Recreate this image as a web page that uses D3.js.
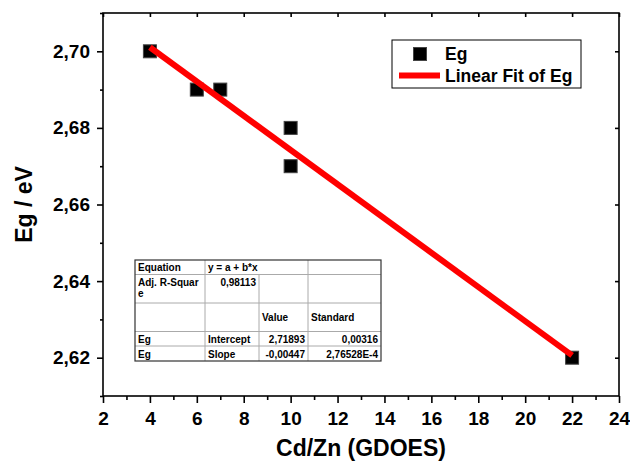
<!DOCTYPE html>
<html>
<head>
<meta charset="utf-8">
<script src="https://cdn.jsdelivr.net/npm/d3@7"></script>
<style>
  body { margin: 0; background: #fff; }
  svg { font-family: "Liberation Sans", Arial, sans-serif; font-weight: bold; }
</style>
</head>
<body>
<div id="chart"></div>
<script>
// measured points
const cdZn = [4, 6, 7, 10, 10, 22];
const eg = [2.70, 2.69, 2.69, 2.68, 2.67, 2.62];

// linear fit (from the fit table)
const intercept = 2.71893;
const slope = -0.00447;
const fitRange = [4, 22];

const xTicks = [2, 4, 6, 8, 10, 12, 14, 16, 18, 20, 22, 24];
const xMinor = [3, 5, 7, 9, 11, 13, 15, 17, 19, 21, 23];
const yTicks = [2.62, 2.64, 2.66, 2.68, 2.70];
const yMinor = [2.61, 2.63, 2.65, 2.67, 2.69, 2.71];

// fit table rows
const tableRows = [
    ["Equation", "y = a + b*x", "", ""],
    ["Adj. R-Squar|e", "0,98113", "", ""],
    ["", "", "Value", "Standard"],
    ["Eg", "Intercept", "2,71893", "0,00316"],
    ["Eg", "Slope", "-0,00447", "2,76528E-4"]
];

const w = 630, h = 463;
const pLeft = 103, pRight = 619, pTop = 13, pBottom = 396;

const svg = d3.select("#chart").append("svg")
    .attr("width", w)
    .attr("height", h);

const xScale = d3.scaleLinear().domain([2, 24]).range([pLeft, pRight]);
const yScale = d3.scaleLinear().domain([2.61, 2.71]).range([pBottom, pTop]);

const comma = d3.formatLocale({decimal: ",", thousands: ".", grouping: [3], currency: ["", ""]});
const yFmt = comma.format(".2f");

// axes
function styleAxis(g, size) {
    g.select(".domain").remove();
    g.selectAll("line").attr("stroke", "#000").attr("stroke-width", 1.6);
    g.selectAll("text").attr("font-size", size).attr("font-weight", "bold")
        .attr("font-family", "'Liberation Sans', Arial, sans-serif").attr("fill", "#000");
}

svg.append("g").attr("transform", `translate(0,${pBottom})`)
    .call(d3.axisBottom(xScale).tickValues(xTicks).tickSize(7).tickPadding(9).tickFormat(d3.format("d")))
    .call(g => styleAxis(g, 19));
svg.append("g").attr("transform", `translate(0,${pBottom})`)
    .call(d3.axisBottom(xScale).tickValues(xMinor).tickSize(4).tickFormat(""))
    .call(g => styleAxis(g, 19));
svg.append("g").attr("transform", `translate(0,${pTop})`)
    .call(d3.axisBottom(xScale).tickValues(xTicks).tickSize(4).tickFormat(""))
    .call(g => styleAxis(g, 19));

svg.append("g").attr("transform", `translate(${pLeft},0)`)
    .call(d3.axisLeft(yScale).tickValues(yTicks).tickSize(6).tickPadding(7).tickFormat(yFmt))
    .call(g => styleAxis(g, 19));
svg.append("g").attr("transform", `translate(${pLeft},0)`)
    .call(d3.axisLeft(yScale).tickValues(yMinor).tickSize(3).tickFormat(""))
    .call(g => styleAxis(g, 19));
svg.append("g").attr("transform", `translate(${pRight},0)`)
    .call(d3.axisLeft(yScale).tickValues(yTicks).tickSize(4).tickFormat(""))
    .call(g => styleAxis(g, 19));

// frame
svg.append("rect")
    .attr("x", pLeft).attr("y", pTop)
    .attr("width", pRight - pLeft).attr("height", pBottom - pTop)
    .attr("fill", "none").attr("stroke", "#000").attr("stroke-width", 1.6);

// axis titles
svg.append("text")
    .attr("x", (pLeft + pRight) / 2).attr("y", 456)
    .attr("text-anchor", "middle").attr("font-size", 23)
    .text("Cd/Zn (GDOES)");
svg.append("text")
    .attr("transform", `translate(32,${(pTop + pBottom) / 2}) rotate(-90)`)
    .attr("text-anchor", "middle").attr("font-size", 23)
    .text("Eg / eV");

// fit table
const colX = [135, 205, 259, 308, 381];
const rowY = [260, 274.5, 303, 331.5, 346, 361];
const tbl = svg.append("g");
tbl.append("rect")
    .attr("x", colX[0]).attr("y", rowY[0])
    .attr("width", colX[4] - colX[0]).attr("height", rowY[5] - rowY[0])
    .attr("fill", "#fff").attr("stroke", "none");
// horizontal lines
rowY.slice(1, -1).forEach(y => {
    tbl.append("line").attr("x1", colX[0]).attr("x2", colX[4])
        .attr("y1", y).attr("y2", y).attr("stroke", "#aaa").attr("stroke-width", 1);
});
// vertical lines (col 3 line skips the equation row)
[1, 2, 3].forEach(i => {
    tbl.append("line").attr("x1", colX[i]).attr("x2", colX[i])
        .attr("y1", i === 2 ? rowY[1] : rowY[0]).attr("y2", rowY[5])
        .attr("stroke", "#aaa").attr("stroke-width", 1);
});
tbl.append("rect")
    .attr("x", colX[0]).attr("y", rowY[0])
    .attr("width", colX[4] - colX[0]).attr("height", rowY[5] - rowY[0])
    .attr("fill", "none").attr("stroke", "#333").attr("stroke-width", 1.2);

tableRows.forEach((row, r) => {
    row.forEach((txt, c) => {
        if (!txt) return;
        // numbers are right aligned, labels left aligned
        const numeric = r !== 2 && c >= 1 && /^-?[0-9]/.test(txt);
        let base;
        if (r === 2) base = rowY[r] + 18;
        else if (r >= 3) base = (rowY[r] + rowY[r + 1]) / 2 + 4;
        else base = rowY[r] + 11;
        const parts = txt.split("|");
        parts.forEach((p, k) => {
            tbl.append("text")
                .attr("x", numeric ? colX[c + 1] - 3 : colX[c] + 3)
                .attr("y", base + k * 11)
                .attr("text-anchor", numeric ? "end" : "start")
                .attr("font-size", 10)
                .text(p);
        });
    });
});

// data points
const pts = cdZn.map((x, i) => ({x: x, y: eg[i]}));
svg.selectAll("rect.pt").data(pts).enter().append("rect")
    .attr("class", "pt")
    .attr("x", d => xScale(d.x) - 6.5)
    .attr("y", d => yScale(d.y) - 6.5)
    .attr("width", 13).attr("height", 13)
    .attr("fill", "#000").attr("stroke", "#444").attr("stroke-width", 1);

// fit line
const line = d3.line().x(d => xScale(d)).y(d => yScale(intercept + slope * d));
svg.append("path")
    .datum(fitRange)
    .attr("d", line)
    .attr("fill", "none").attr("stroke", "#ff0000").attr("stroke-width", 6);

// legend
const lg = svg.append("g");
lg.append("rect").attr("x", 392).attr("y", 40).attr("width", 189).attr("height", 48)
    .attr("fill", "#fff").attr("stroke", "#000").attr("stroke-width", 1);
lg.append("rect").attr("x", 413.5).attr("y", 47.5).attr("width", 13).attr("height", 13)
    .attr("fill", "#000").attr("stroke", "#444");
lg.append("text").attr("x", 445).attr("y", 60).attr("font-size", 17.5).text("Eg");
lg.append("line").attr("x1", 399).attr("x2", 440).attr("y1", 75.5).attr("y2", 75.5)
    .attr("stroke", "#ff0000").attr("stroke-width", 6);
lg.append("text").attr("x", 445).attr("y", 82).attr("font-size", 17.5).text("Linear Fit of Eg");
</script>
</body>
</html>
